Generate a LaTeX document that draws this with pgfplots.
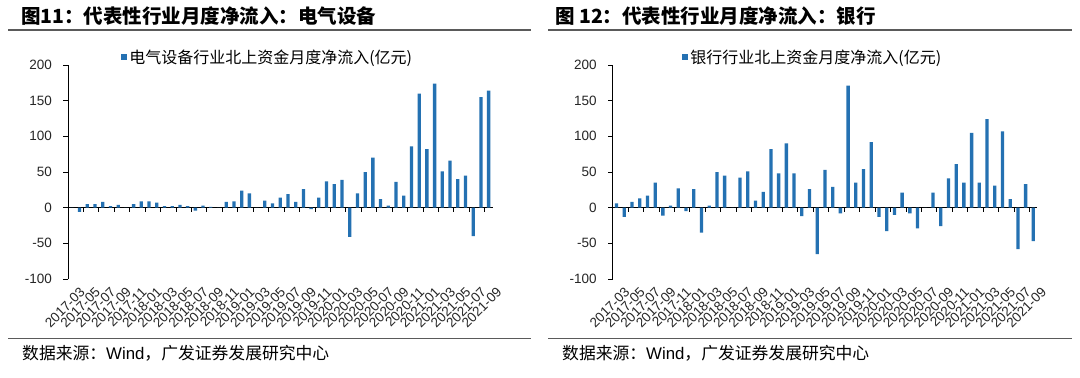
\documentclass[border=0pt]{standalone}
\usepackage{fontspec}
\usepackage{pgfplots}
\pgfplotsset{compat=1.18}
\usepackage{pgfplotstable}
\setmainfont{Liberation Sans}
\newfontfamily\cjk{Noto Sans CJK SC}
\definecolor{barblue}{RGB}{36,113,178}
\definecolor{rulegray}{RGB}{90,90,90}

\pgfplotstableread{
x y
0 0
1 -6
2 5
3 5
4 8
5 2
6 4
7 0
8 5
9 9
10 9
11 7
12 2
13 2
14 4
15 2
16 -4
17 3
18 1
19 0
20 8
21 9
22 24
23 20
24 0
25 10
26 6
27 14
28 19
29 8
30 26
31 -2
32 14
33 37
34 33
35 39
36 -41
37 20
38 50
39 70
40 12
41 3
42 36
43 17
44 86
45 160
46 82
47 174
48 51
49 66
50 40
51 45
52 -40
53 155
54 164
}\elec

\pgfplotstableread{
x y
0 6
1 -13
2 8
3 13
4 17
5 35
6 -11
7 3
8 27
9 -5
10 26
11 -35
12 3
13 50
14 45
15 0
16 42
17 51
18 10
19 22
20 82
21 48
22 90
23 48
24 -12
25 26
26 -65
27 53
28 29
29 -8
30 171
31 35
32 54
33 92
34 -13
35 -33
36 -10
37 21
38 -8
39 -29
40 0
41 21
42 -26
43 41
44 61
45 35
46 105
47 35
48 124
49 31
50 107
51 12
52 -58
53 33
54 -47
}\bank

\pgfplotsset{
  myax/.style={
    scale only axis, width=424.5bp, height=214bp,
    xmin=-0.5, xmax=54.5, ymin=-100, ymax=200,
    axis y line*=left, axis x line*=bottom,
    x axis line style={draw=none},
    y axis line style={black, line width=0.9bp},
    ytick={-100,-50,0,50,100,150,200},
    yticklabels={-100,-50,0,50,100,150,200},
    xtick={0,2,...,54},
    xticklabels={2017-03,2017-05,2017-07,2017-09,2017-11,2018-01,2018-03,2018-05,2018-07,2018-09,2018-11,2019-01,2019-03,2019-05,2019-07,2019-09,2019-11,2020-01,2020-03,2020-05,2020-07,2020-09,2020-11,2021-01,2021-03,2021-05,2021-07,2021-09},
    x tick style={draw=none},
    y tick style={black, line width=0.9bp},
    tick align=outside, major tick length=4.5bp,
    /pgf/number format/assume math mode=true,
    yticklabel style={font=\fontsize{13.5bp}{15bp}\selectfont, text=black!85, xshift=-8bp},
    xticklabel style={font=\fontsize{13.5bp}{14bp}\selectfont, text=black!85, rotate=45, anchor=east, inner sep=0pt, yshift=-12bp, xshift=3bp},
    ybar, bar width=3.3bp,
    extra y ticks={0}, extra y tick labels={},
    extra y tick style={grid=major, major grid style={black, line width=1.1bp}, major tick length=0pt},
    legend cell align=left,
    legend image code/.code={\fill[barblue] (0bp,-3.3bp) rectangle (6.5bp,3.3bp);},
  },
}

\begin{document}
\begin{tikzpicture}
\path[use as bounding box] (0bp,0bp) rectangle (1080bp,-378bp);
\fill[white] (0bp,0bp) rectangle (1080bp,-378bp);

% ---- left panel ----
\node[anchor=west, inner sep=0pt] at (21bp,-16bp) {\cjk\bfseries\fontsize{19.5bp}{22bp}\selectfont 图11：代表性行业月度净流入：电气设备};
\draw[rulegray, line width=1.5bp] (8bp,-30bp) -- (531bp,-30bp);
\draw[rulegray, line width=1.5bp] (8bp,-338.5bp) -- (531bp,-338.5bp);
\node[anchor=west, inner sep=0pt] at (22bp,-353bp) {\fontsize{16.8bp}{18bp}\selectfont{\cjk 数据来源：}Wind{\cjk ，广发证券发展研究中心}};

\begin{axis}[myax, at={(68bp,-279bp)}, anchor=south west,
  legend style={at={(rel axis cs:0.124,1.037)}, anchor=west, draw=none, fill=none, inner sep=0pt,
    font=\cjk\fontsize{16bp}{17bp}\selectfont}]
\addplot[fill=barblue, draw=none] table[x=x, y=y] {\elec};
\addlegendentry{电气设备行业北上资金月度净流入(亿元)}
\pgfplotsinvokeforeach{1.5,3.5,...,53.5}{
  \draw[black, line width=0.9bp] (axis cs:#1,0) -- ([yshift=-4.5bp]axis cs:#1,0);
}
\end{axis}

% ---- right panel ----
\node[anchor=west, inner sep=0pt] at (555bp,-16bp) {\cjk\bfseries\fontsize{19.5bp}{22bp}\selectfont 图 12：代表性行业月度净流入：银行};
\draw[rulegray, line width=1.5bp] (548bp,-30bp) -- (1072bp,-30bp);
\draw[rulegray, line width=1.5bp] (548bp,-338.5bp) -- (1072bp,-338.5bp);
\node[anchor=west, inner sep=0pt] at (562bp,-353bp) {\fontsize{16.8bp}{18bp}\selectfont{\cjk 数据来源：}Wind{\cjk ，广发证券发展研究中心}};

\begin{axis}[myax, at={(612.7bp,-279bp)}, anchor=south west,
  legend style={at={(rel axis cs:0.1625,1.037)}, anchor=west, draw=none, fill=none, inner sep=0pt,
    font=\cjk\fontsize{16bp}{17bp}\selectfont}]
\addplot[fill=barblue, draw=none] table[x=x, y=y] {\bank};
\addlegendentry{银行行业北上资金月度净流入(亿元)}
\pgfplotsinvokeforeach{1.5,3.5,...,53.5}{
  \draw[black, line width=0.9bp] (axis cs:#1,0) -- ([yshift=-4.5bp]axis cs:#1,0);
}
\end{axis}
\end{tikzpicture}
\end{document}
